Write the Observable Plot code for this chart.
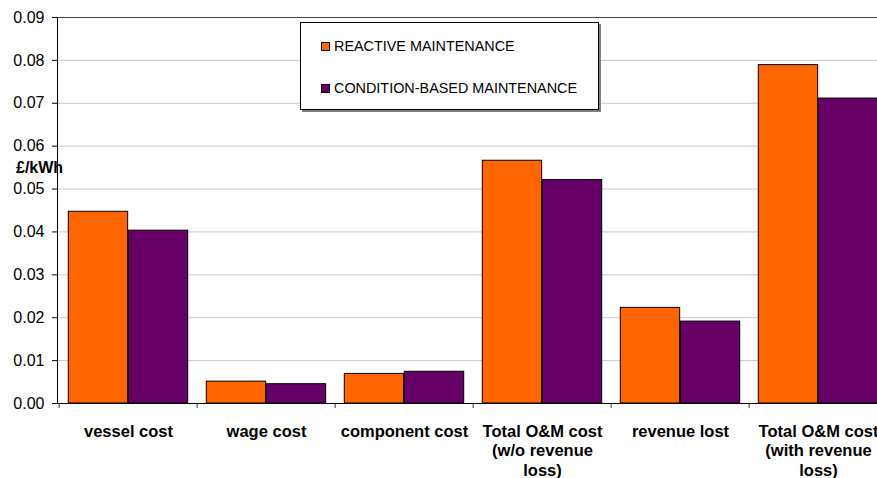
<!DOCTYPE html>
<html>
<head>
<meta charset="utf-8">
<script src="https://cdn.jsdelivr.net/npm/d3@7"></script>
<script src="https://cdn.jsdelivr.net/npm/@observablehq/plot@0.6"></script>
<style>
  body { margin: 0; background: #fff; font-family: "Liberation Sans", Arial, sans-serif; }
  #wrap { position: relative; width: 877px; height: 478px; overflow: hidden; }
  #legend { position: absolute; left: 300px; top: 22px; width: 297px; height: 86px;
            border: 1px solid #000; background: #fff; box-shadow: 2px 2px 0 #7f7f7f; }
  .item { position: absolute; left: 20px; font-size: 14.4px; line-height: 14px; color: #000; white-space: nowrap; }
  .sw { display: inline-block; width: 9px; height: 9px; box-sizing: border-box; border: 1px solid #000; margin-right: 4px; vertical-align: 0px; }
  #unit { position: absolute; left: 16px; top: 160px; font-weight: bold; font-size: 16px; line-height: 16px; }
</style>
</head>
<body>
<div id="wrap"></div>
<script>
const categories = [
  "vessel cost",
  "wage cost",
  "component cost",
  "Total O&M cost\n(w/o revenue\nloss)",
  "revenue lost",
  "Total O&M cost\n(with revenue\nloss)"
];
const seriesNames = ["REACTIVE MAINTENANCE", "CONDITION-BASED MAINTENANCE"];
const seriesColors = ["#FF6600", "#660066"];
const reactive = [0.0447, 0.0051, 0.0069, 0.0566, 0.0223, 0.0789];
const conditionBased = [0.0403, 0.0045, 0.0074, 0.0521, 0.0191, 0.0711];
const yTicks = [0, 0.01, 0.02, 0.03, 0.04, 0.05, 0.06, 0.07, 0.08, 0.09];
const yLabel = "£/kWh";

const rows = [];
categories.forEach((c, i) => {
  rows.push({category: c, series: seriesNames[0], value: reactive[i]});
  rows.push({category: c, series: seriesNames[1], value: conditionBased[i]});
});

const W = 877, H = 478;
const x0 = 57, x1 = 889;
const step = (x1 - x0) / categories.length;
const pad = step * 0.067;
const barW = (step - 2 * pad) / 2;
const font = "Liberation Sans, Arial, sans-serif";

const chart = Plot.plot({
  width: W,
  height: H,
  marginTop: 17,
  marginBottom: H - 403,
  marginLeft: x0,
  marginRight: 0,
  style: {fontFamily: font, color: "#000", background: "#fff"},
  x: {domain: categories, range: [x0, x1], padding: 0},
  y: {domain: [0, 0.09]},
  marks: [
    Plot.gridY(yTicks.slice(1, -1), {stroke: "#c8c8c8", strokeOpacity: 1}),
    Plot.ruleY([0.09], {stroke: "#444"}),
    Plot.barY(rows.filter(d => d.series === seriesNames[0]), {
      x: "category", y: "value", fill: seriesColors[0], stroke: "#000", strokeWidth: 1,
      insetLeft: pad, insetRight: pad + barW
    }),
    Plot.barY(rows.filter(d => d.series === seriesNames[1]), {
      x: "category", y: "value", fill: seriesColors[1], stroke: "#000", strokeWidth: 1,
      insetLeft: pad + barW, insetRight: pad
    }),
    Plot.ruleY([0], {stroke: "#000"}),
    Plot.ruleX(categories, {x: d => d, y1: 0, y2: 0, insetBottom: -5, dx: -step / 2, stroke: "#333"}),
    Plot.frame({anchor: "left", stroke: "#000"}),
    Plot.axisY(yTicks, {
      tickSize: 5, tickPadding: 8, tickFormat: d3.format(".2f"),
      fontSize: 16, label: null, stroke: "#000"
    }),
    Plot.axisX({
      tickSize: 0, tickPadding: 19.3, fontSize: 16.5, fontWeight: "bold",
      lineHeight: 1.19, label: null
    })
  ]
});

const wrap = document.getElementById("wrap");
wrap.appendChild(chart);

const unit = document.createElement("div");
unit.id = "unit";
unit.textContent = yLabel;
wrap.appendChild(unit);

const legend = document.createElement("div");
legend.id = "legend";
seriesNames.forEach((name, i) => {
  const item = document.createElement("div");
  item.className = "item";
  item.style.top = (i === 0 ? 16 : 58) + "px";
  const sw = document.createElement("span");
  sw.className = "sw";
  sw.style.background = seriesColors[i];
  item.appendChild(sw);
  item.appendChild(document.createTextNode(name));
  legend.appendChild(item);
});
wrap.appendChild(legend);
</script>
</body>
</html>
